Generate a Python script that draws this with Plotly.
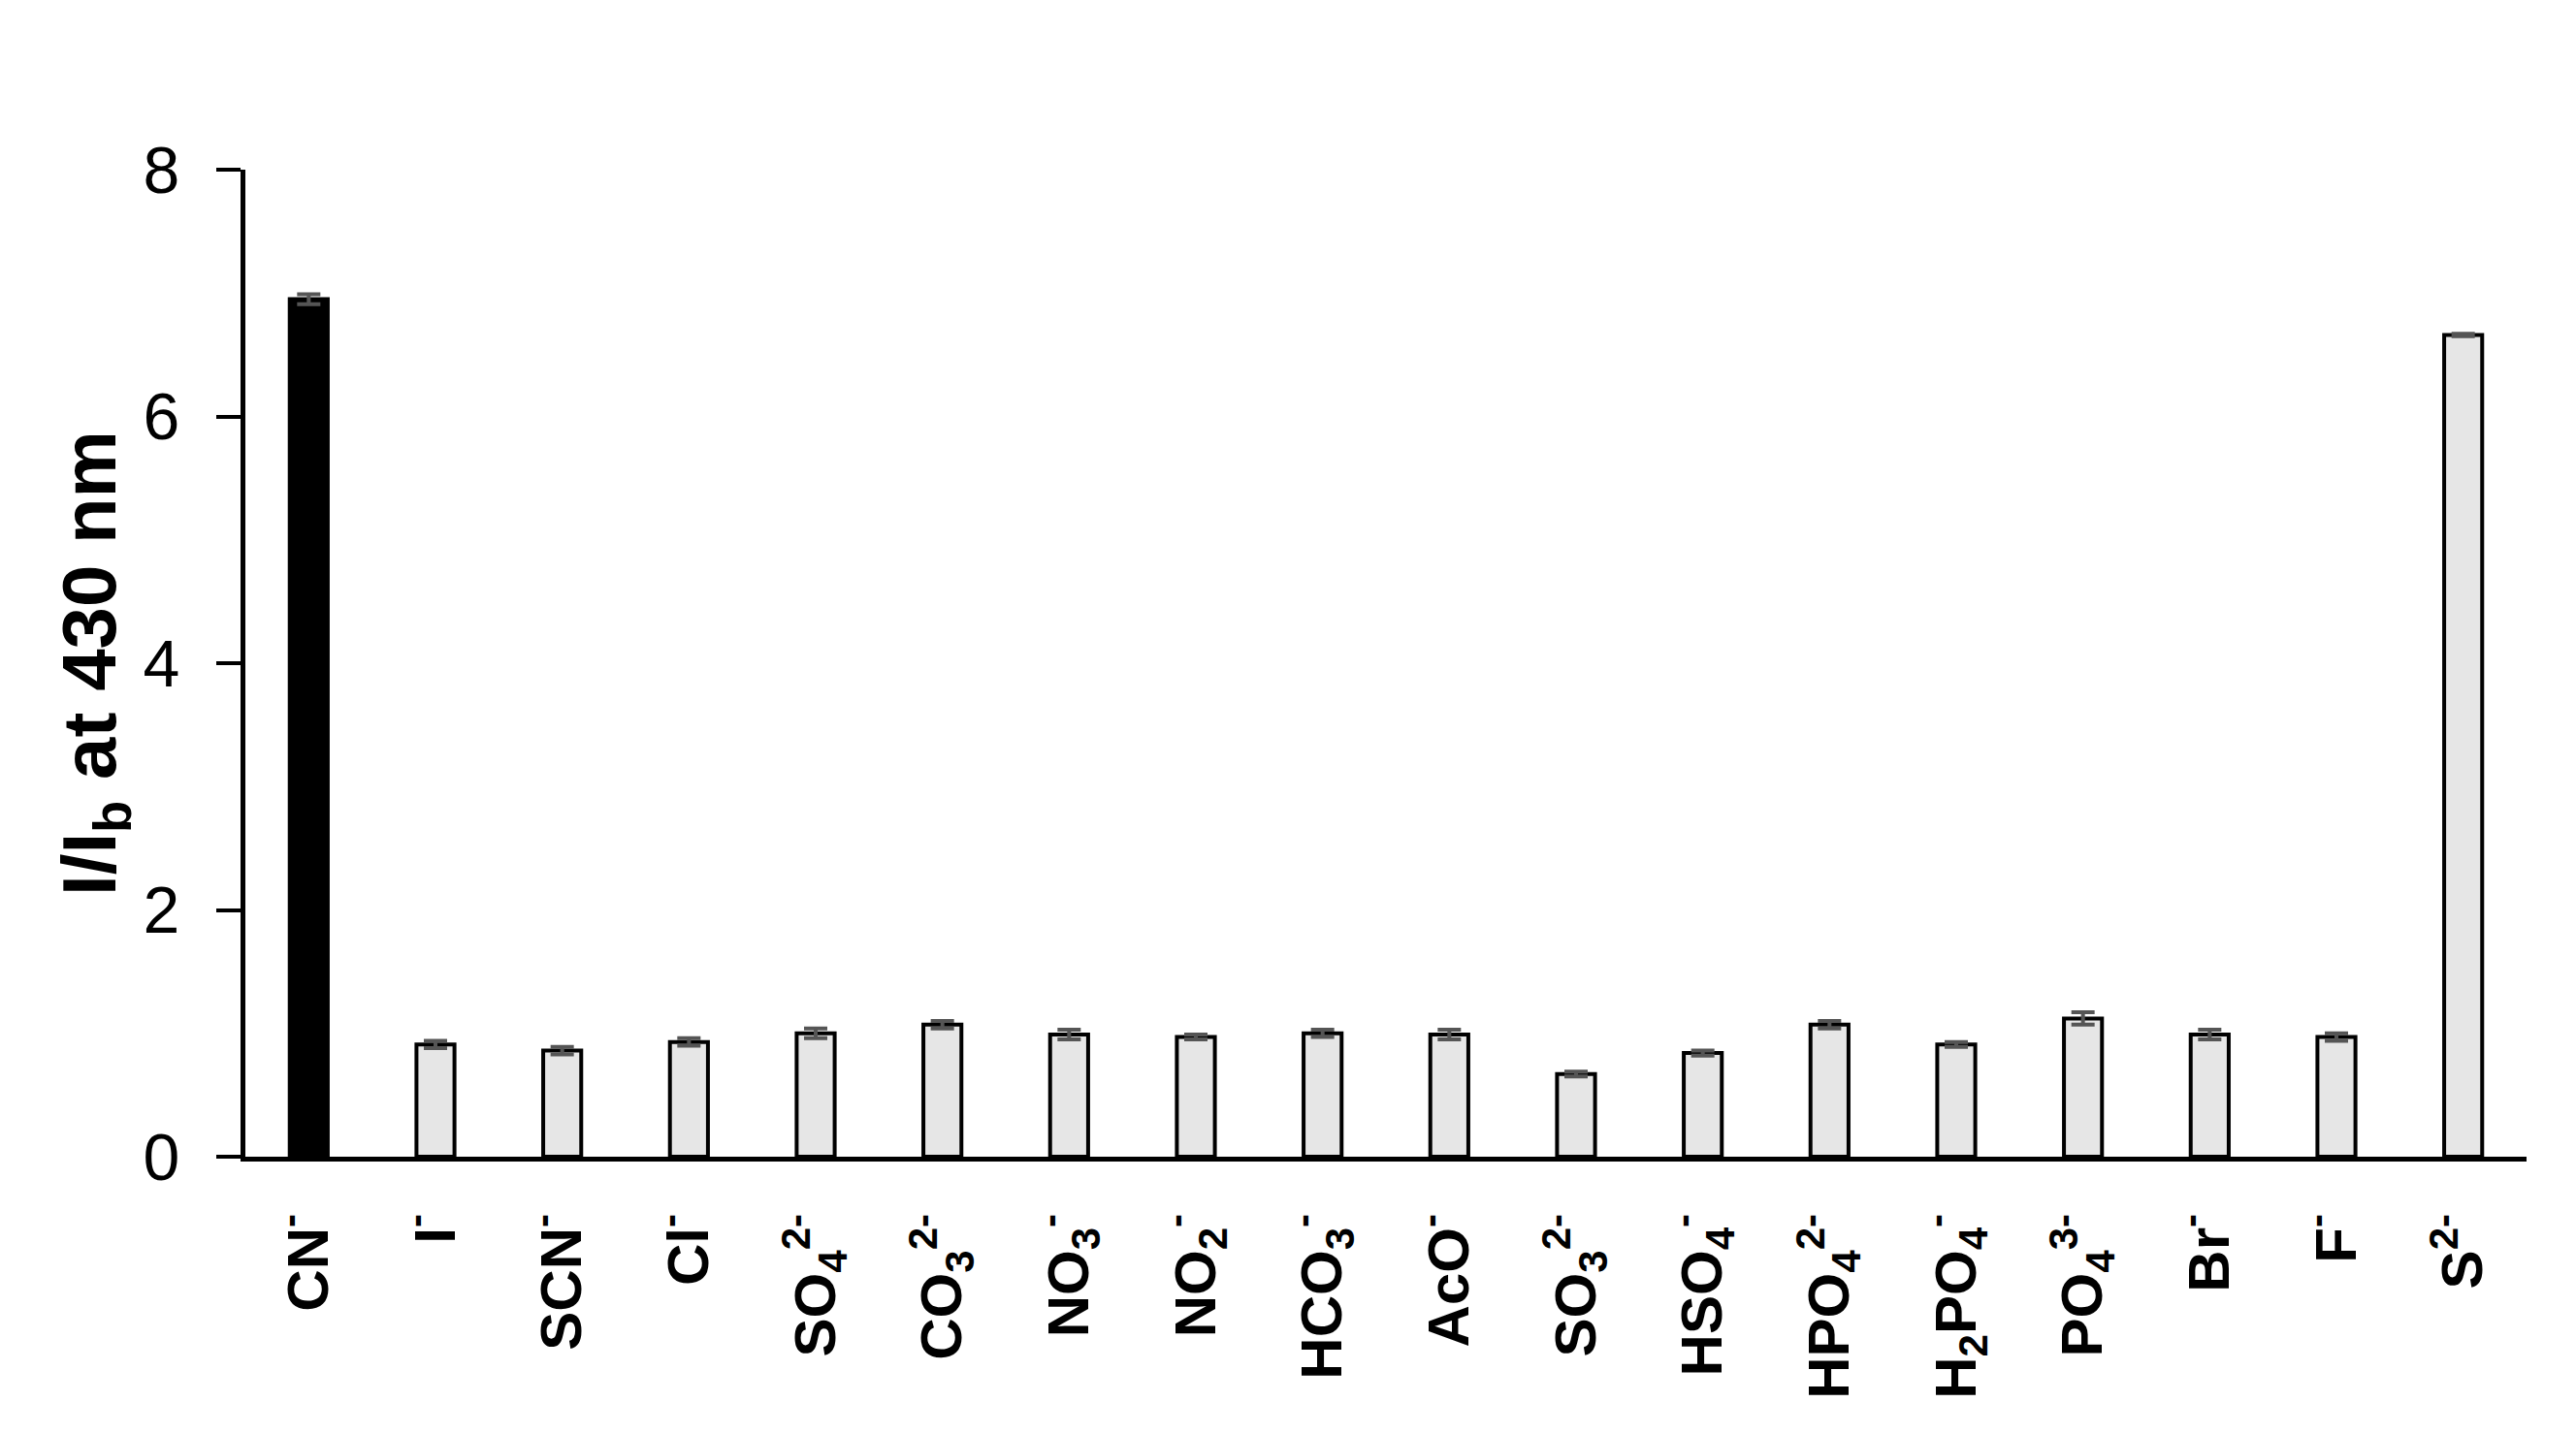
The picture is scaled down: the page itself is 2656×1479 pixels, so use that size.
import plotly.graph_objects as go

categories = ["CN<sup>-</sup>", "I<sup>-</sup>", "SCN<sup>-</sup>", "Cl<sup>-</sup>",
              "SO<sub>4</sub><sup>2-</sup>", "CO<sub>3</sub><sup>2-</sup>",
              "NO<sub>3</sub><sup>-</sup>", "NO<sub>2</sub><sup>-</sup>",
              "HCO<sub>3</sub><sup>-</sup>", "AcO<sup>-</sup>",
              "SO<sub>3</sub><sup>2-</sup>", "HSO<sub>4</sub><sup>-</sup>",
              "HPO<sub>4</sub><sup>2-</sup>", "H<sub>2</sub>PO<sub>4</sub><sup>-</sup>",
              "PO<sub>4</sub><sup>3-</sup>", "Br<sup>-</sup>", "F<sup>-</sup>", "S<sup>2-</sup>"]
values = [6.95, 0.91, 0.86, 0.93, 1.00, 1.07, 0.99, 0.97, 1.00, 0.99,
          0.67, 0.84, 1.07, 0.91, 1.12, 0.99, 0.97, 6.66]
errors = [0.04, 0.03, 0.03, 0.03, 0.04, 0.03, 0.04, 0.02, 0.03, 0.04,
          0.02, 0.02, 0.03, 0.02, 0.05, 0.04, 0.03, 0.01]
colors = ["#000000"] + ["#e6e6e6"] * 16 + ["#e6e6e6"]

FONT = "Liberation Sans, Arial, sans-serif"

fig = go.Figure()
fig.add_trace(go.Bar(
    x=categories, y=values,
    width=0.3,
    marker=dict(color=colors, line=dict(color="#000000", width=4)),
    error_y=dict(type="data", array=errors, visible=True,
                 color="#555555", thickness=4, width=12),
))

fig.update_layout(
    width=2656, height=1479,
    paper_bgcolor="white", plot_bgcolor="white",
    margin=dict(l=245, r=59, t=167, b=294),
    showlegend=False,
    font=dict(family=FONT, color="#000000"),
)
fig.update_xaxes(
    showline=True, linecolor="#000000", linewidth=5,
    showgrid=False, ticks="", tickangle=-90,
    tickfont=dict(family=FONT, size=60, color="#000000", weight="bold"),
    ticklabelstandoff=30,
)
fig.update_yaxes(
    range=[0, 8], tickvals=[0, 2, 4, 6, 8],
    showline=True, linecolor="#000000", linewidth=5,
    showgrid=False, zeroline=False,
    ticks="outside", ticklen=25, tickwidth=4, tickcolor="#000000",
    tickfont=dict(family=FONT, size=68, color="#000000"),
    ticklabelstandoff=24,
    title=dict(text="I/I<sub>b</sub> at 430 nm",
               font=dict(family=FONT, size=78, color="#000000", weight="bold"),
               standoff=4),
)

fig.write_html("out.html")
